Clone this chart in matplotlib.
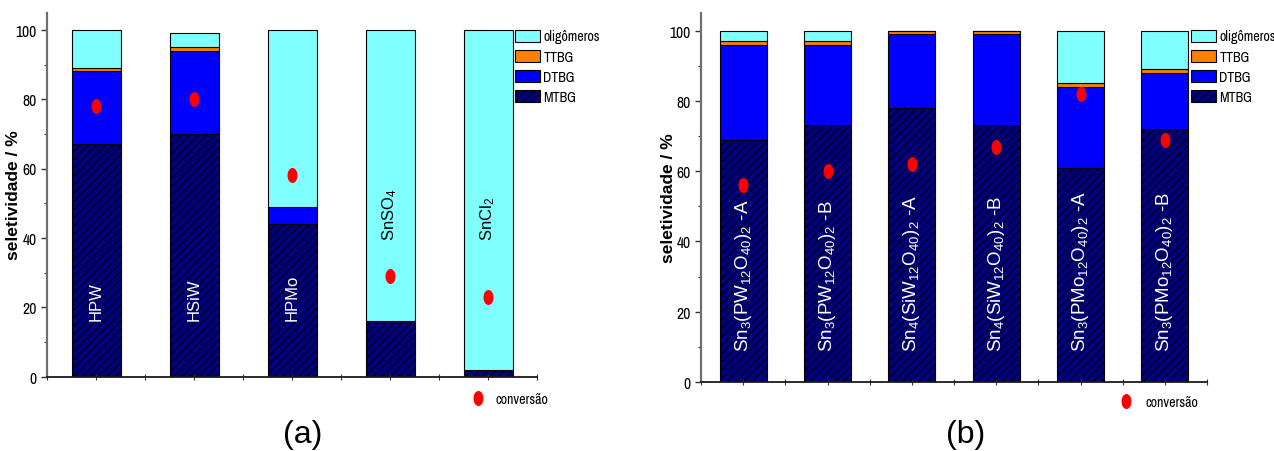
import numpy as np
import matplotlib
matplotlib.use("Agg")
import matplotlib.pyplot as plt
from matplotlib.patches import Patch
from matplotlib.lines import Line2D
from matplotlib.path import Path
from matplotlib.transforms import Affine2D
from matplotlib.textpath import TextPath
from matplotlib.font_manager import FontProperties

# ---- data -------------------------------------------------------------
cat_a = ["HPW", "HSiW", "HPMo", r"SnSO$_4$", r"SnCl$_2$"]
mtbg_a = [67, 70, 44, 16, 2]
dtbg_a = [21, 24, 5, 0, 0]
ttbg_a = [1, 1, 0, 0, 0]
olig_a = [11, 4, 51, 84, 98]
conv_a = [78, 80, 58, 29, 23]

cat_b = [r"Sn$_3$(PW$_{12}$O$_{40}$)$_2$ -A",
         r"Sn$_3$(PW$_{12}$O$_{40}$)$_2$ -B",
         r"Sn$_4$(SiW$_{12}$O$_{40}$)$_2$ -A",
         r"Sn$_4$(SiW$_{12}$O$_{40}$)$_2$ -B",
         r"Sn$_3$(PMo$_{12}$O$_{40}$)$_2$ -A",
         r"Sn$_3$(PMo$_{12}$O$_{40}$)$_2$ -B"]
mtbg_b = [69, 73, 78, 73, 61, 72]
dtbg_b = [27, 23, 21, 26, 23, 16]
ttbg_b = [1, 1, 1, 1, 1, 1]
olig_b = [3, 3, 0, 0, 15, 11]
conv_b = [56, 60, 62, 67, 82, 69]

series_names = ["MTBG", "DTBG", "TTBG", "oligômeros"]
conv_name = "conversão"

# ---- style ------------------------------------------------------------
C_MTBG = "#000080"
C_DTBG = "#0000FF"
C_TTBG = "#FF8000"
C_OLIG = "#80FFFF"
C_CONV = "#FF0000"

NARROW = ["Archivo Narrow", "Roboto Condensed", "Liberation Sans"]
SANS = ["Liberation Sans", "DejaVu Sans"]

plt.rcParams["font.family"] = SANS
plt.rcParams["mathtext.fontset"] = "custom"
plt.rcParams["mathtext.rm"] = "Liberation Sans"
plt.rcParams["mathtext.it"] = "Liberation Sans:italic"
plt.rcParams["mathtext.bf"] = "Liberation Sans:bold"
plt.rcParams["hatch.linewidth"] = 0.8
plt.rcParams["hatch.color"] = "black"

DPI = 100


def size_for_width(text, width_px, family, ref_size=10.0):
    """Font size (pt) at which `text` is `width_px` pixels wide."""
    tp = TextPath((0, 0), text, size=ref_size, prop=FontProperties(family=family))
    ext = tp.get_extents()
    w_px = ext.width * DPI / 72.0
    return ref_size * width_px / w_px


LEG_SIZE = min(11.0, size_for_width("oligômeros", 55.5, NARROW))
TICK_SIZE = min(11.5, size_for_width("100", 20.0, NARROW))

# tall ellipse used as the conversion marker
ELLIPSE = Path.unit_circle().transformed(Affine2D().scale(0.63, 1.0))

W, H = 1274, 452
fig = plt.figure(figsize=(W / DPI, H / DPI), dpi=DPI)

ax_a = fig.add_axes([47 / W, 1 - 377.5 / H, 490 / W, 364 / H])
ax_b = fig.add_axes([701 / W, 1 - 383 / H, 506 / W, 369 / H])


def stacked(ax, mtbg, dtbg, ttbg, olig, conv, width):
    x = np.arange(len(mtbg))
    m = np.array(mtbg, float)
    d = np.array(dtbg, float)
    t = np.array(ttbg, float)
    o = np.array(olig, float)
    kw = dict(width=width, edgecolor="black", linewidth=0.8)
    ax.bar(x, m, color=C_MTBG, hatch="////", **kw)
    ax.bar(x, d, bottom=m, color=C_DTBG, **kw)
    ax.bar(x, t, bottom=m + d, color=C_TTBG, **kw)
    ax.bar(x, o, bottom=m + d + t, color=C_OLIG, **kw)
    ax.plot(x, conv, ls="none", marker=ELLIPSE, ms=9.8, color=C_CONV,
            mec=C_CONV, zorder=5)
    return x


def style_axes(ax, n):
    ax.set_xlim(-0.5, n - 0.5)
    ax.set_ylim(0, 105)
    for s in ("top", "right"):
        ax.spines[s].set_visible(False)
    ax.spines["left"].set_color("#6e6e6e")
    ax.spines["left"].set_linewidth(1.6)
    ax.spines["bottom"].set_color("#1a1a1a")
    ax.spines["bottom"].set_linewidth(1.3)
    ax.set_xticks(np.arange(-0.5, n, 0.5))
    ax.tick_params(axis="x", direction="inout", length=4, width=0.8,
                   labelbottom=False, color="#333333")
    ax.set_yticks(np.arange(0, 101, 20))
    ax.set_yticks(np.arange(10, 100, 20), minor=True)
    ax.tick_params(axis="y", which="major", direction="out", length=4,
                   width=1.0, pad=3.5, color="#333333")
    ax.tick_params(axis="y", which="minor", direction="out", length=2.5,
                   width=0.8, color="#333333")
    for lab in ax.get_yticklabels():
        lab.set_family(NARROW)
        lab.set_fontsize(TICK_SIZE)
    ax.set_ylabel("seletividade / %", fontsize=12.5, fontweight="bold",
                  family=SANS)


# ---- panel (a) --------------------------------------------------------
xa = stacked(ax_a, mtbg_a, dtbg_a, ttbg_a, olig_a, conv_a, 0.5)
style_axes(ax_a, len(cat_a))
ax_a.yaxis.set_label_coords(-0.053, 0.5)
for i, name in enumerate(cat_a):
    light = mtbg_a[i] > 30
    ax_a.text(xa[i], 16.3 if light else 39.5, name, rotation=90,
              ha="center", va="bottom", fontsize=12,
              color="white" if light else "black", zorder=6)

# ---- panel (b) --------------------------------------------------------
xb = stacked(ax_b, mtbg_b, dtbg_b, ttbg_b, olig_b, conv_b, 0.555)
style_axes(ax_b, len(cat_b))
ax_b.yaxis.set_label_coords(-0.05, 0.5)
for i, name in enumerate(cat_b):
    ax_b.text(xb[i], 8.9, name, rotation=90, ha="center", va="bottom",
              fontsize=13.5, color="white", zorder=6)

# ---- legends ----------------------------------------------------------
handles = [
    Patch(facecolor=C_OLIG, edgecolor="black", linewidth=0.8),
    Patch(facecolor=C_TTBG, edgecolor="black", linewidth=0.8),
    Patch(facecolor=C_DTBG, edgecolor="black", linewidth=0.8),
    Patch(facecolor=C_MTBG, edgecolor="black", linewidth=0.8, hatch="////"),
]
labels = series_names[::-1]
fs_px = LEG_SIZE * DPI / 72.0
leg_kw = dict(loc="upper left", frameon=False, borderpad=0,
              borderaxespad=0, handlelength=25 / fs_px,
              handleheight=13.5 / fs_px,
              labelspacing=6.0 / fs_px, handletextpad=3.5 / fs_px,
              prop=dict(family=NARROW, size=LEG_SIZE))
fig.legend(handles, labels, bbox_to_anchor=(515 / W, 1 - 30.5 / H), **leg_kw)
fig.legend(handles, labels, bbox_to_anchor=(1191 / W, 1 - 30.5 / H), **leg_kw)

conv_handle = Line2D([], [], ls="none", marker=ELLIPSE, ms=9.8,
                     color=C_CONV, mec=C_CONV)
cv_kw = dict(loc="center left", frameon=False, borderpad=0, borderaxespad=0,
             handlelength=14 / fs_px, prop=dict(family=NARROW, size=LEG_SIZE))
fig.legend([conv_handle], [conv_name], bbox_to_anchor=(471 / W, 1 - 400 / H),
           handletextpad=10 / fs_px, **cv_kw)
fig.legend([conv_handle], [conv_name], bbox_to_anchor=(1119 / W, 1 - 403 / H),
           handletextpad=12 / fs_px, **cv_kw)

# ---- panel captions ---------------------------------------------------
fig.text(302.5 / W, 1 - 443 / H, "(a)", ha="center", va="baseline",
         fontsize=23)
fig.text(966 / W, 1 - 443 / H, "(b)", ha="center", va="baseline",
         fontsize=23)

fig.savefig("out.png", dpi=DPI)
